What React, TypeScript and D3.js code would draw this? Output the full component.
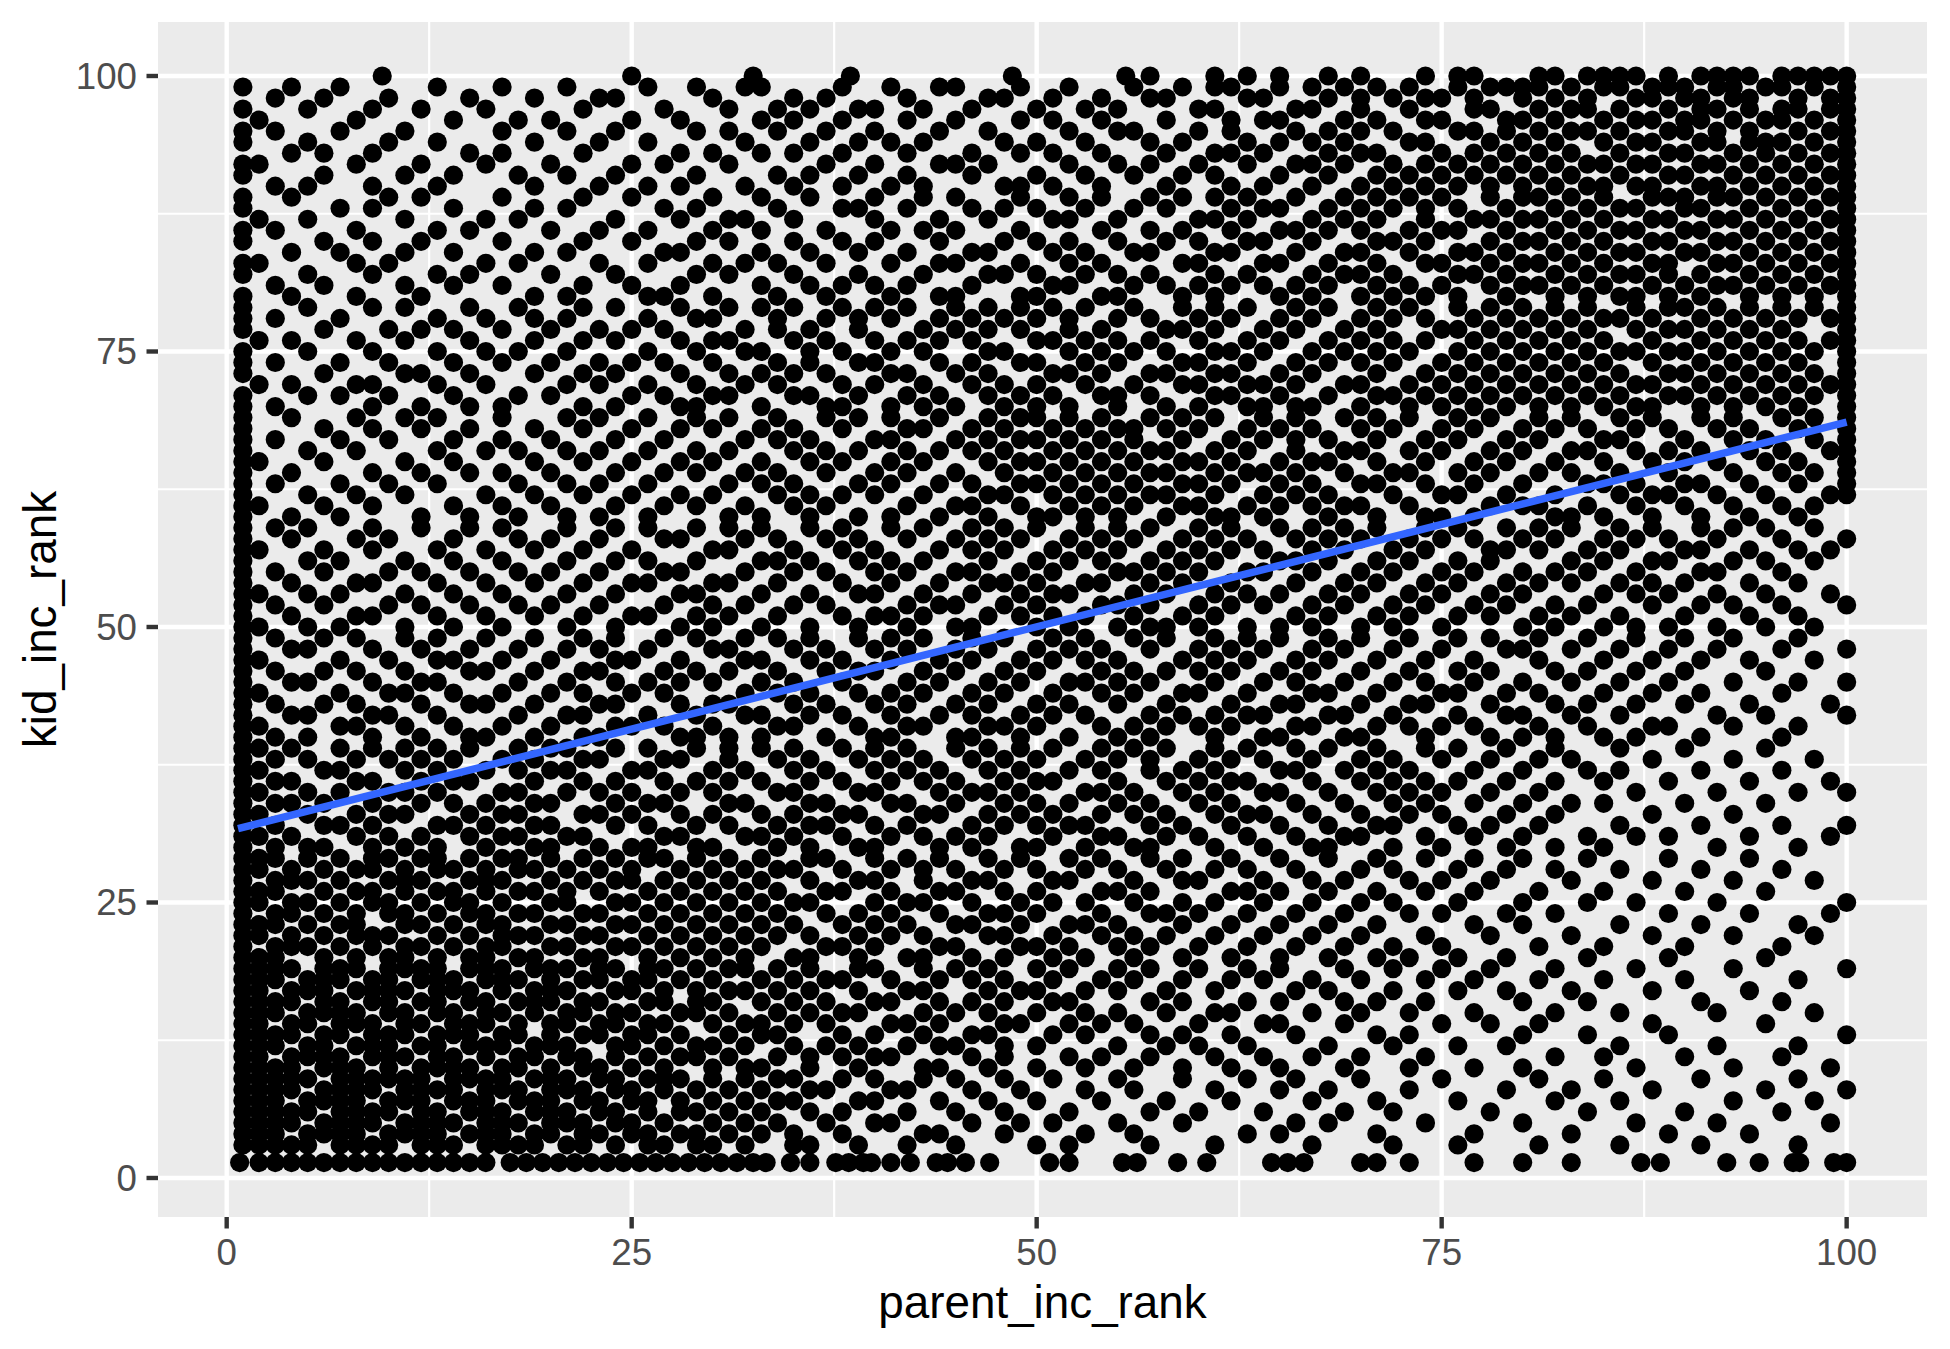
import { useEffect } from 'react';
import * as d3 from 'd3';

// kid_inc_rank | parent_inc_rank values of the points on that row
const kidRankRows: string[] = [
  '100|9.6 25 32.5 38.5 48.5 55.5 57 61 63 65 68 70 74 76 77 81 82 84 85 86 87 89 91 92 93 94 96 97 98 99 100',
  '99|1 4 7 13 17 21 26 29 32 33 38 41 44 45 49 52 56 59 61 62 65 67 69 71 73 76 78 79 80 81 83 85 86 88 89 90 92 93 95 96 98 100',
  '98|3 6 10 15 19 23 24 30 35 37 42 47 48 51 54 57 58 63 64 68 70 72 74 75 77 80 82 84 87 88 90 91 93 94 97 99 100',
  '97|1 5 9 12 16 22 27 31 34 36 39 40 43 46 50 53 55 60 61 66 67 70 73 77 78 81 83 84 86 89 91 92 94 96 97 99 100',
  '96|2 8 14 18 20 25 28 33 35 38 42 45 49 51 54 58 62 64 65 69 71 74 75 79 80 82 85 87 88 90 91 93 95 96 98 100',
  '95|1 3 7 11 17 21 24 29 31 34 37 40 44 47 52 55 56 60 62 66 68 70 72 76 77 79 81 83 84 86 89 90 92 94 97 99 100',
  '94|1 5 10 13 19 23 26 32 36 39 41 43 48 50 53 57 59 63 65 67 69 73 74 78 80 82 85 87 88 91 92 94 95 96 98 100',
  '93|4 6 9 15 17 22 28 30 33 35 38 42 46 49 51 54 58 61 62 64 68 70 71 75 77 79 81 83 86 89 90 93 95 97 99 100',
  '92|1 2 8 12 16 20 25 27 31 37 40 44 45 47 52 55 57 60 63 66 67 69 72 74 76 78 80 82 84 85 87 88 91 92 94 96 98 100',
  '91|1 6 11 14 18 21 24 29 34 36 39 42 46 50 53 56 59 61 65 68 71 73 75 77 79 81 83 86 89 90 93 95 97 99 100',
  '90|3 5 9 13 19 23 26 28 32 35 38 41 43 48 49 51 54 58 62 64 67 70 72 74 76 78 80 82 84 85 87 88 91 92 94 96 98 100',
  '89|1 4 10 12 17 22 25 30 33 36 40 43 45 49 52 54 57 59 61 63 66 69 71 73 75 78 80 81 83 85 88 89 90 92 93 95 97 99 100',
  '88|1 7 9 14 19 21 27 29 34 38 39 42 46 48 50 53 56 58 62 64 65 68 70 72 74 76 79 82 84 86 87 90 91 94 96 98 100',
  '87|2 5 11 16 18 24 28 31 32 35 40 44 47 51 52 55 60 61 63 67 69 71 74 77 78 80 81 83 85 88 89 92 93 95 97 99 100',
  '86|1 3 8 13 15 20 23 26 30 33 37 41 43 45 49 54 57 59 62 65 66 68 70 73 75 76 79 82 84 86 87 90 91 94 96 98 100',
  '85|1 6 9 12 17 22 25 29 31 35 38 40 44 48 50 52 55 58 60 63 64 67 71 72 74 78 80 81 83 85 88 89 92 93 95 97 99 100',
  '84|4 7 11 14 19 21 27 28 33 36 39 42 46 47 51 53 56 57 61 62 66 69 70 73 76 77 79 82 84 86 87 90 91 94 96 98 100',
  '83|1 2 8 10 16 18 23 26 30 32 34 37 41 44 45 49 52 54 59 60 64 65 68 71 74 75 78 80 81 83 85 88 89 92 93 95 97 99 100',
  '82|1 5 9 13 15 20 24 29 31 35 39 43 47 48 50 53 55 57 61 63 67 69 70 72 76 77 79 82 84 86 87 89 91 94 96 98 100',
  '81|3 6 11 14 17 22 25 28 33 36 38 40 42 46 51 52 56 58 60 62 64 66 68 71 73 75 78 80 81 83 85 88 90 92 93 95 97 99 100',
  '80|1 4 8 12 19 21 26 27 30 34 37 41 44 45 49 50 54 55 59 61 65 67 70 72 74 76 79 82 84 86 87 89 91 94 96 98 100',
  '79|1 5 9 11 15 18 22 24 28 31 33 35 38 40 42 45 47 49 51 53 56 59 61 63 66 68 71 73 76 78 80 82 84 87 89 90 92 94 96 98 100',
  '78|1 3 7 13 16 19 21 26 29 30 34 37 39 41 44 46 48 50 52 55 57 60 62 65 67 70 72 74 77 79 81 83 85 86 88 91 93 95 97 99 100',
  '77|1 6 10 12 14 17 20 23 25 27 32 34 36 39 43 45 47 49 52 54 58 59 61 64 66 69 71 75 76 78 80 82 84 87 89 90 92 94 96 100',
  '76|2 4 8 11 15 19 22 24 28 30 31 35 37 40 42 44 46 50 51 53 55 57 60 63 65 68 70 72 74 77 79 81 83 85 88 91 93 95 97 99 100',
  '75|1 5 9 13 16 18 21 26 29 32 33 36 38 41 43 47 48 52 54 56 58 61 62 64 67 69 71 73 76 78 80 82 84 86 87 89 90 92 94 96 98 100',
  '74|1 3 7 10 14 17 20 23 25 27 30 34 36 39 40 44 46 49 50 53 55 59 60 63 66 68 70 72 75 77 79 81 83 85 88 91 93 95 97 100',
  '73|1 6 11 12 15 19 22 24 28 31 33 35 37 41 42 45 47 51 52 54 57 58 61 62 65 67 71 74 76 78 80 82 84 86 89 90 92 94 96 98 100',
  '72|2 4 8 9 13 16 21 23 26 29 32 34 38 40 43 46 48 50 53 56 59 60 63 64 66 69 70 73 75 77 79 81 83 85 87 88 91 93 95 97 99 100',
  '71|1 5 7 10 14 18 20 25 27 30 31 35 36 39 42 44 47 49 51 54 55 57 61 62 65 68 71 72 74 76 78 80 82 84 86 89 90 92 94 96 98 100',
  '70|1 3 9 12 15 17 22 24 28 29 33 37 38 41 43 45 48 50 52 55 58 60 63 64 66 67 70 73 75 77 79 81 83 85 87 88 91 93 95 97 100',
  '69|1 4 8 11 13 17 21 23 26 29 31 34 37 39 41 44 47 49 50 52 54 57 59 61 64 66 69 71 73 76 78 81 83 86 88 91 93 96 98 100',
  '68|1 6 9 12 15 19 22 25 28 30 33 35 38 42 43 46 48 51 53 55 56 58 60 63 65 67 70 72 75 77 80 82 84 87 89 92 94 97 100',
  '67|1 3 7 10 14 17 20 24 27 32 34 36 40 41 45 47 49 50 52 54 56 59 62 64 66 68 71 74 76 79 81 85 86 90 93 95 98 100',
  '66|1 5 8 13 16 18 21 23 26 29 31 35 37 39 42 44 46 48 51 53 55 57 58 61 63 66 69 70 73 75 78 80 83 84 87 89 91 94 96 99 100',
  '65|1 2 6 11 14 19 22 25 28 30 33 36 38 41 43 47 49 50 52 54 56 59 60 62 65 67 68 71 74 77 79 82 85 88 90 92 95 97 100',
  '64|1 4 9 12 15 17 20 24 27 29 32 34 37 40 42 45 48 51 53 55 57 58 61 63 64 66 69 72 73 76 78 81 83 86 89 93 96 98 100',
  '63|1 3 7 10 13 18 21 23 26 31 33 35 39 41 44 46 49 50 52 54 56 59 60 62 65 67 70 71 74 77 80 84 85 87 90 91 94 97 100',
  '62|1 5 8 11 16 19 22 25 28 30 34 36 38 40 43 47 48 51 53 55 57 58 61 64 66 68 72 75 76 79 82 86 88 89 92 95 99 100',
  '61|1 2 6 9 14 17 20 24 27 29 32 35 37 42 45 46 49 52 54 56 59 60 63 65 67 69 70 73 78 80 81 84 87 90 93 96 98',
  '60|1 4 7 12 15 18 21 23 26 31 33 36 39 41 44 47 50 51 53 55 58 61 62 64 68 71 74 75 77 82 83 85 88 91 94 97',
  '59|1 3 5 9 12 15 17 21 24 26 29 31 33 36 38 41 43 46 48 50 53 55 57 60 62 65 67 69 71 74 76 79 81 83 86 88 91 93 95 98',
  '58|1 4 8 10 14 18 20 23 27 28 32 34 37 39 42 45 47 49 52 54 56 59 61 63 66 68 70 73 75 77 80 82 85 87 89 92 96 100',
  '57|1 2 6 9 13 16 19 22 25 30 31 35 38 40 44 46 48 51 53 55 58 60 62 64 67 69 72 74 78 79 81 84 86 90 91 94 97 99',
  '56|1 5 7 11 14 17 21 24 26 29 33 34 36 39 41 43 47 50 52 54 57 59 61 65 66 68 71 73 76 78 83 85 88 89 93 95 98',
  '55|1 3 6 10 12 15 18 20 23 27 28 32 35 37 40 42 45 46 49 51 55 56 58 60 63 64 67 70 72 75 77 80 82 84 87 91 92 96',
  '54|1 4 8 9 13 16 19 22 25 26 30 31 34 38 41 44 47 48 50 53 54 57 59 62 66 69 71 74 76 79 81 83 86 88 90 94 97',
  '53|1 2 5 7 11 14 17 21 24 28 29 33 36 39 40 43 46 49 51 52 56 58 61 63 65 68 70 73 75 78 80 85 87 89 92 95 99',
  '52|1 3 6 10 12 15 18 20 23 27 30 32 35 37 42 44 45 48 50 54 55 57 60 62 64 67 69 72 74 77 79 82 84 88 91 93 96 100',
  '51|1 4 8 9 13 16 19 22 25 26 29 31 34 38 40 41 43 47 49 51 53 56 59 61 66 68 71 73 76 78 81 83 86 90 94 97',
  '50|1 2 5 7 11 14 17 21 24 28 30 33 36 39 42 45 46 50 52 55 57 58 60 63 65 67 70 72 75 80 82 85 87 89 92 95 98',
  '49|1 3 6 8 11 13 16 19 22 24 27 29 32 34 36 39 41 43 46 48 51 53 56 58 61 63 65 68 70 73 76 78 81 84 87 90 93 97',
  '48|1 4 5 9 12 15 18 21 23 26 30 31 35 37 40 42 45 47 50 52 54 57 60 62 64 67 69 72 75 79 80 83 86 89 92 96 100',
  '47|1 2 7 10 13 14 17 20 24 25 28 32 33 36 38 41 44 46 49 51 53 55 59 61 63 66 68 71 74 77 81 85 88 91 94 98',
  '46|1 3 6 8 11 15 16 19 22 23 27 29 31 34 37 39 40 43 45 48 50 54 56 58 60 62 65 67 70 73 76 78 82 84 87 90 95',
  '45|1 4 5 9 12 13 18 21 24 26 28 30 33 35 38 42 44 47 49 52 53 55 57 61 64 66 69 72 74 77 80 83 86 89 93 97 100',
  '44|1 2 7 10 11 14 17 20 22 25 27 32 34 36 39 41 43 46 48 51 54 56 59 60 63 67 68 71 75 76 79 81 85 88 91 96',
  '43|1 3 6 8 12 15 16 19 23 24 28 30 31 35 37 40 42 45 47 50 52 55 58 62 65 66 70 73 74 78 82 84 87 90 94 99',
  '42|1 4 5 9 10 13 18 21 22 26 29 32 33 36 38 41 44 46 49 51 53 57 59 61 63 64 68 69 72 76 79 80 83 86 92 95 100',
  '41|1 2 7 8 11 14 17 20 24 25 27 30 34 35 39 42 43 47 48 50 54 56 58 60 62 66 67 71 73 75 77 81 84 88 89 93 97',
  '40|1 3 5 9 12 15 16 19 22 23 28 29 31 33 37 40 41 45 46 49 52 55 57 61 64 65 69 70 74 78 80 82 85 87 91 96',
  '39|1 2 4 7 9 11 13 15 18 20 21 24 26 29 31 33 35 38 40 42 45 47 49 51 54 56 58 61 63 66 68 71 74 76 79 82 86 90 95',
  '38|1 3 5 8 10 12 14 17 19 22 23 27 28 31 34 36 39 41 43 46 48 50 53 55 57 60 62 64 67 70 72 75 78 81 83 88 93 98',
  '37|1 2 6 7 11 13 16 18 20 21 25 26 30 32 35 37 40 42 44 47 49 52 54 57 59 61 65 66 69 71 73 77 80 84 86 91 96',
  '36|1 3 4 8 9 12 14 15 19 22 24 27 29 31 33 36 38 41 43 45 48 50 51 55 58 60 62 63 67 70 72 74 76 79 82 85 89 94 99',
  '35|1 2 5 7 10 11 13 17 18 21 23 25 28 30 34 35 39 40 44 46 47 49 53 54 56 59 61 64 65 68 71 73 75 78 81 87 92 97 100',
  '34|1 3 4 6 9 12 14 16 19 20 24 26 27 31 32 36 37 41 42 45 48 50 52 55 57 60 62 66 69 72 74 77 80 83 85 90 95',
  '33|1 2 5 8 10 11 15 17 18 22 23 25 28 30 33 35 38 39 43 44 47 49 51 54 56 58 61 63 64 67 70 73 75 79 82 88 93',
  '32|1 3 6 7 9 13 14 16 19 20 24 26 29 31 34 36 37 40 42 46 48 50 52 53 57 59 62 65 68 71 72 76 78 81 86 91 96 100',
  '31|1 2 4 8 10 12 15 17 18 21 22 27 28 32 33 35 38 41 43 45 47 51 54 55 58 60 63 66 69 70 74 77 80 84 87 89 94 99',
  '30|1 3 5 6 9 11 13 16 19 20 23 25 26 29 30 34 36 39 40 44 46 49 50 53 56 57 61 64 67 68 72 75 79 82 85 92 97',
  '29|1 2 3 5 7 9 10 12 13 15 17 18 20 22 24 26 27 29 31 33 36 37 40 42 44 47 49 52 54 57 59 62 65 68 71 74 77 80 84 89 94',
  '28|1 2 4 6 8 9 11 13 14 16 18 19 21 23 25 28 30 32 34 35 38 41 43 45 48 50 53 55 58 61 63 66 70 72 76 79 82 86 91 96',
  '27|1 3 4 5 7 10 11 12 15 16 17 20 22 24 25 27 29 31 33 36 39 40 43 46 47 51 52 56 59 60 64 67 69 73 75 78 83 88 93 98',
  '26|1 2 3 6 8 9 11 13 14 16 18 19 21 23 26 28 30 32 34 37 38 41 44 45 48 50 54 55 57 62 63 65 68 71 74 77 81 85 90 95',
  '25|1 2 4 5 7 9 10 12 14 15 17 20 21 24 25 27 29 31 33 35 36 40 42 43 46 49 51 53 56 59 61 64 67 70 72 76 80 84 87 92 100',
  '24|1 3 4 6 8 10 11 13 15 16 18 19 22 23 26 28 30 32 34 37 39 41 44 47 48 50 54 57 58 60 63 66 69 73 75 79 82 89 94 99',
  '23|1 2 3 5 7 8 11 12 14 16 17 20 21 24 25 27 29 31 33 35 38 40 42 45 46 49 52 53 55 59 62 65 68 71 77 80 86 91 97',
  '22|1 2 4 6 8 9 10 13 15 17 18 19 22 23 26 28 30 32 34 36 39 41 43 47 48 51 54 56 58 61 64 67 70 74 78 83 88 93 98',
  '21|1 3 4 5 7 9 11 12 14 16 17 20 21 24 25 27 29 31 33 37 38 40 44 45 49 50 52 55 57 60 63 66 69 72 75 81 85 90 96',
  '20|1 2 3 6 8 10 11 13 15 16 18 19 22 23 26 28 30 32 35 36 39 42 43 46 48 51 53 56 59 62 65 68 71 73 76 79 84 89 95',
  '19|1 2 3 4 6 7 8 10 11 12 13 15 16 17 19 20 21 23 24 26 27 29 31 32 34 36 39 40 43 45 47 50 52 55 57 60 63 65 69 72 75 78 82 87 93 100',
  '18|1 2 3 5 6 7 9 10 12 13 14 16 17 18 20 22 23 25 26 28 30 33 35 37 38 41 44 46 48 51 54 56 59 62 64 67 70 74 77 81 85 90 97',
  '17|1 2 4 5 6 8 9 10 11 13 14 15 17 19 20 21 24 25 27 29 31 32 34 36 39 42 43 47 49 50 53 55 58 61 66 68 72 76 79 83 88 94',
  '16|1 2 3 4 6 7 9 10 12 13 15 16 18 19 20 22 23 26 27 29 30 33 35 37 40 41 44 46 48 51 52 57 59 63 65 69 71 74 80 84 91 96',
  '15|1 2 3 5 6 7 8 10 11 13 14 16 17 19 21 22 24 25 28 29 31 34 36 38 39 43 45 47 50 53 55 58 61 62 67 70 73 77 82 86 92 98',
  '14|1 2 4 5 7 8 9 11 12 14 15 16 18 20 21 23 24 26 27 30 32 33 35 37 41 42 44 48 49 52 54 56 60 64 65 69 75 78 81 88 95',
  '13|1 2 3 4 6 7 9 10 11 13 14 15 17 18 20 22 23 25 26 28 31 33 34 38 40 43 46 47 51 53 57 59 62 66 71 73 80 84 89 100',
  '12|1 2 3 5 6 8 9 10 12 13 15 16 17 19 20 21 24 25 27 29 30 32 35 37 39 42 44 45 48 50 55 58 60 63 68 72 76 79 86 92 97',
  '11|1 2 4 5 6 7 9 10 11 13 14 16 18 19 21 22 24 26 28 29 31 34 36 38 40 41 46 48 52 54 57 61 64 67 70 74 82 85 90 96',
  '10|1 2 3 4 6 7 8 10 12 13 14 15 17 18 20 22 23 25 27 30 32 33 36 39 43 44 47 50 53 56 59 62 65 69 73 77 80 87 93 99',
  '9|1 2 3 4 5 7 8 9 10 11 12 14 15 16 17 19 20 21 23 24 26 27 28 30 32 34 35 38 40 43 45 48 51 55 59 63 66 70 75 81 85 91 97',
  '8|1 2 3 4 6 7 8 9 11 12 13 14 16 17 18 20 21 22 24 25 27 29 31 33 36 37 41 42 46 49 53 56 61 65 68 73 79 83 88 95 100',
  '7|1 2 3 5 6 7 8 10 11 12 14 15 16 18 19 20 22 23 25 26 28 30 32 34 35 39 40 44 47 50 54 58 62 67 71 76 82 86 93 98',
  '6|1 2 3 4 5 7 8 9 10 12 13 15 16 17 19 20 21 23 24 26 28 29 31 33 36 38 42 45 48 52 57 60 64 69 72 78 84 90 96',
  '5|1 2 3 4 6 7 8 9 11 12 13 14 16 17 18 20 21 22 24 25 27 30 32 34 37 40 41 46 49 51 55 59 66 68 74 80 87 92 99',
  '4|1 2 3 5 6 7 8 10 11 12 13 15 16 17 19 20 22 23 25 26 28 29 31 33 35 38 43 44 48 53 56 63 65 71 77 83 89 94',
  '3|1 2 3 4 5 7 8 9 10 12 13 14 16 17 18 19 21 22 24 26 27 29 30 32 35 36 39 42 45 50 52 57 61 67 72 76 81 86 91 97',
  '1.4|0.8 2 3 4 5 6 7 8 9 10 11 12 13 14 15 16 17.5 18.5 19.5 20.5 21.5 22.5 23.5 24.5 25.5 26.5 27.5 28.5 29.5 30.5 31.5 32.5 33.3 34.8 36 37.6 38.4 39.3 39.8 41 42.2 43.8 44.5 45.6 47.1 50.8 52 55.3 56.2 58.7 60.5 64.5 65.5 66.5 70 71 73 77 80 83 87.3 88.5 92.6 94.6 96.7 97.1 99.2 100',
];

const parentIncRank: number[] = [];
const kidIncRank: number[] = [];
kidRankRows.forEach((row) => {
  const [kid, parents] = row.split('|');
  parents.trim().split(/\s+/).forEach((p) => {
    parentIncRank.push(+p);
    kidIncRank.push(+kid);
  });
});

const xBreaks = [0, 25, 50, 75, 100];
const yBreaks = [0, 25, 50, 75, 100];
const minorBreaks = [12.5, 37.5, 62.5, 87.5];

// linear smoother (geom_smooth, method = "lm") end points
const fitParent = [0.7, 100];
const fitKid = [31.7, 68.6];

const W = 1950;
const H = 1349;
const panel = { left: 158, right: 1927, top: 22, bottom: 1217 };
const FONT = '"Liberation Sans", Arial, Helvetica, sans-serif';

export default function App() {
  useEffect(() => {
    document.body.style.margin = '0';
  }, []);

  const x = d3.scaleLinear().domain([-4.24, 104.96]).range([panel.left, panel.right]);
  const y = d3.scaleLinear().domain([-3.54, 104.9]).range([panel.bottom, panel.top]);

  const line = d3
    .line<number>()
    .x((d) => x(fitParent[d]))
    .y((d) => y(fitKid[d]));

  return (
    <svg width={W} height={H} style={{ display: 'block', background: '#fff' }} fontFamily={FONT}>
      <rect
        x={panel.left}
        y={panel.top}
        width={panel.right - panel.left}
        height={panel.bottom - panel.top}
        fill="#EBEBEB"
      />
      {minorBreaks.map((b) => (
        <g key={`m${b}`} stroke="#fff" strokeWidth={2.2}>
          <line x1={x(b)} x2={x(b)} y1={panel.top} y2={panel.bottom} />
          <line x1={panel.left} x2={panel.right} y1={y(b)} y2={y(b)} />
        </g>
      ))}
      {xBreaks.map((b) => (
        <line key={`gx${b}`} x1={x(b)} x2={x(b)} y1={panel.top} y2={panel.bottom} stroke="#fff" strokeWidth={4.4} />
      ))}
      {yBreaks.map((b) => (
        <line key={`gy${b}`} x1={panel.left} x2={panel.right} y1={y(b)} y2={y(b)} stroke="#fff" strokeWidth={4.4} />
      ))}

      <g fill="#000">
        {parentIncRank.map((p, i) => (
          <circle key={i} cx={x(p)} cy={y(kidIncRank[i])} r={9.6} />
        ))}
      </g>

      <path d={line([0, 1]) ?? ''} fill="none" stroke="#3366FF" strokeWidth={7.5} />

      {xBreaks.map((b) => (
        <g key={`tx${b}`}>
          <line x1={x(b)} x2={x(b)} y1={panel.bottom} y2={panel.bottom + 11.5} stroke="#333333" strokeWidth={4.4} />
          <text x={x(b)} y={1265} textAnchor="middle" fontSize={36.7} fill="#4D4D4D">
            {b}
          </text>
        </g>
      ))}
      {yBreaks.map((b) => (
        <g key={`ty${b}`}>
          <line x1={panel.left - 11.5} x2={panel.left} y1={y(b)} y2={y(b)} stroke="#333333" strokeWidth={4.4} />
          <text x={137} y={y(b) + 13} textAnchor="end" fontSize={36.7} fill="#4D4D4D">
            {b}
          </text>
        </g>
      ))}

      <text x={(panel.left + panel.right) / 2} y={1318} textAnchor="middle" fontSize={45.8} fill="#000">
        parent_inc_rank
      </text>
      <text
        transform={`translate(56,${(panel.top + panel.bottom) / 2}) rotate(-90)`}
        textAnchor="middle"
        fontSize={45.8}
        fill="#000"
      >
        kid_inc_rank
      </text>
    </svg>
  );
}
